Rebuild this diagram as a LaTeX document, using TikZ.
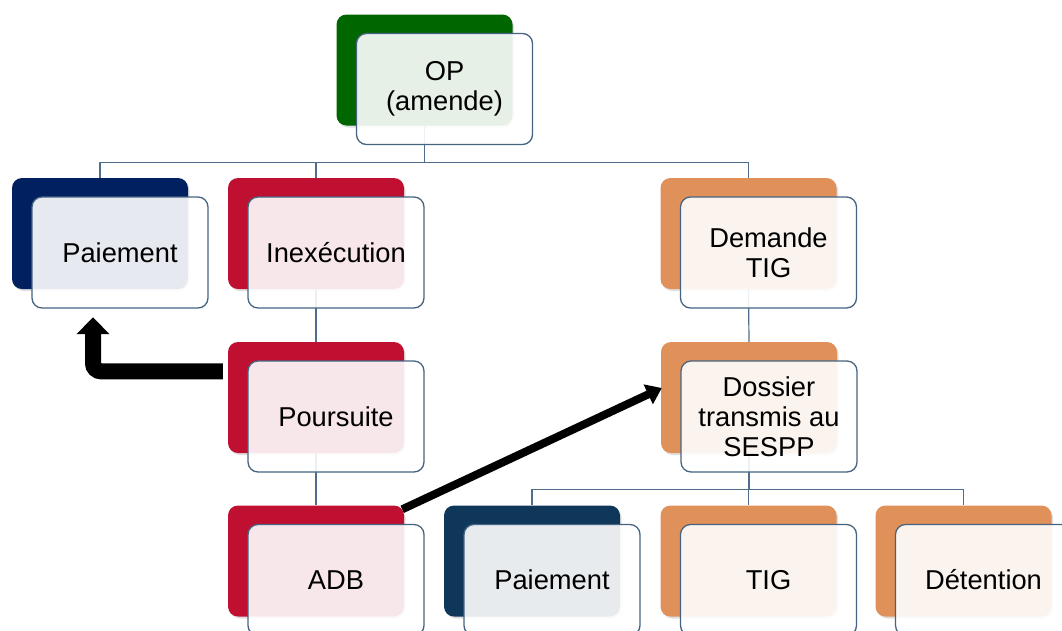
\documentclass[tikz,border=0pt]{standalone}
\usepackage{fontspec}
\setmainfont{Liberation Sans}
\usetikzlibrary{arrows.meta,calc,shadows,backgrounds}
\definecolor{cgreen}{RGB}{0,102,0}
\definecolor{cnavy}{RGB}{0,32,96}
\definecolor{cred}{RGB}{192,16,50}
\definecolor{corange}{RGB}{224,145,90}
\definecolor{cnavyb}{RGB}{15,55,90}
\definecolor{bordc}{RGB}{70,100,130}
\definecolor{connc}{RGB}{80,110,140}
\begin{document}
\begin{tikzpicture}[x=1pt,y=-1pt,
  backbox/.style={rounded corners=10pt, minimum width=176pt, minimum height=111pt, inner sep=0pt, draw=none,
    drop shadow={shadow xshift=1.5pt,shadow yshift=-2pt,opacity=0.25}},
  frontbox/.style={rounded corners=10pt, minimum width=176pt, minimum height=111pt, inner sep=0pt,
    draw=bordc, line width=1.3pt, fill=white, fill opacity=0.9, text opacity=1, text=black,
    font=\fontsize{27.3}{30}\selectfont, align=center},
  conn/.style={draw=connc, line width=1.2pt},
  bigarrow/.style={draw=black, line width=16pt, rounded corners=8pt, -{Triangle[width=32pt,length=17pt]}},
  thinarrow/.style={draw=black, line width=8pt, -{Triangle[width=21pt,length=15pt]}}]
\useasboundingbox (0,0) rectangle (1062,630);
\clip (0,0) rectangle (1062,630);

% back boxes
\node[backbox, fill=cgreen]  (op)    at (424.5,70)   {};
\node[backbox, fill=cnavy]   (pay1)  at (100,233.5)  {};
\node[backbox, fill=cred]    (inex)  at (316,233.5)  {};
\node[backbox, fill=corange] (dem)   at (748.5,233.5){};
\node[backbox, fill=cred]    (pours) at (316,397.5)  {};
\node[backbox, fill=corange] (dos)   at (749,397.5)  {};
\node[backbox, fill=cred]    (adb)   at (316,561)    {};
\node[backbox, fill=cnavyb]  (pay2)  at (532,561)    {};
\node[backbox, fill=corange] (tig)   at (748.5,561)  {};
\node[backbox, fill=corange] (det)   at (963.5,561)  {};

% front boxes
\node[frontbox] (opf)    at ($(op)+(20,19)$)    {OP\\(amende)};
\node[frontbox] (pay1f)  at ($(pay1)+(20,19)$)  {Paiement};
\node[frontbox] (inexf)  at ($(inex)+(20,19)$)  {Inexécution};
\node[frontbox] (demf)   at ($(dem)+(20,19)$)   {Demande\\TIG};
\node[frontbox] (poursf) at ($(pours)+(20,19)$) {Poursuite};
\node[frontbox] (dosf)   at ($(dos)+(20,19)$)   {Dossier\\transmis au\\SESPP};
\node[frontbox] (adbf)   at ($(adb)+(20,19)$)   {ADB};
\node[frontbox] (pay2f)  at ($(pay2)+(20,19)$)  {Paiement};
\node[frontbox] (tigf)   at ($(tig)+(20,19)$)   {TIG};
\node[frontbox] (detf)   at ($(det)+(20,19)$)   {Détention};

% connectors
\begin{scope}[on background layer]
  \draw[conn] (op.south) -- ++(0,36.5) -| (pay1.north);
  \draw[conn] (op.south) -- ++(0,36.5) -| (inex.north);
  \draw[conn] (op.south) -- ++(0,36.5) -| (dem.north);
  \draw[conn] (inex.south) -- (pours.north);
  \draw[conn] (pours.south) -- (adb.north);
  \draw[conn] (dem.south) -- (dos.north);
  \draw[conn] (dos.south) -- ++(0,36) -| (pay2.north);
  \draw[conn] (dos.south) -- ++(0,36) -| (tig.north);
  \draw[conn] (dos.south) -- ++(0,36) -| (det.north);
\end{scope}

% black arrows
\coordinate (elbowstart) at ($(pours.north west)+(-5,29.5)$);
\coordinate (elbowtip) at ($(pay1.south)+(-7,28)$);
\draw[bigarrow] (elbowstart) -| (elbowtip);
\coordinate (diagstart) at ($(adb.north east)+(-2,4)$);
\coordinate (diagtip) at ($(dos.west)+(1,-9.5)$);
\draw[thinarrow] (diagstart) -- (diagtip);
\end{tikzpicture}
\end{document}
